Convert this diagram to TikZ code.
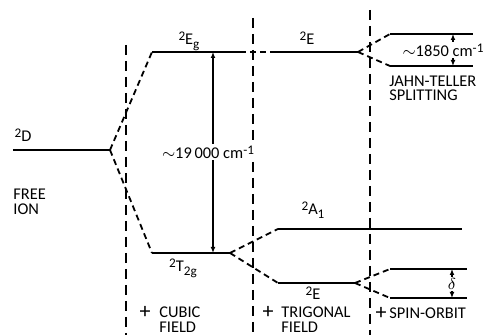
\documentclass[tikz,border=0pt]{standalone}
\usepackage{fontspec}
\setmainfont{Carlito}
\usetikzlibrary{arrows.meta}
\newcommand{\lsup}[1]{\raisebox{0.55ex}{\fontsize{6.6}{7}\selectfont #1}}
\newcommand{\lsub}[1]{\raisebox{-0.45ex}{\fontsize{6.6}{7}\selectfont #1}}
\tikzset{
  lvl/.style={line width=0.9pt},
  cor/.style={line width=0.9pt, dash pattern=on 3pt off 2pt},
  sep/.style={line width=0.7pt, dash pattern=on 5pt off 3pt},
  dim/.style={{Latex[length=3pt,width=2.4pt]}-{Latex[length=3pt,width=2.4pt]}, line width=0.6pt},
  lab/.style={font=\fontsize{8.2}{8.8}\selectfont, inner sep=0pt},
  blk/.style={lab, align=left, font=\fontsize{8.2}{7.6}\selectfont},
  pls/.style={lab, font=\fontsize{11}{11}\selectfont},
}
\begin{document}
\begin{tikzpicture}[x=0.5pt, y=-0.5pt]
  \useasboundingbox (0,0) rectangle (484,335);
  % stage separators
  \coordinate (s1t) at (126,45);  \coordinate (s1b) at (126,335);
  \coordinate (s2t) at (253,18);  \coordinate (s2b) at (253,335);
  \coordinate (s3t) at (370,10);  \coordinate (s3b) at (370,335);
  \draw[sep] (s1t)--(s1b); \draw[sep] (s2t)--(s2b); \draw[sep] (s3t)--(s3b);
  % levels
  \coordinate (d1) at (13,150);   \coordinate (d2) at (110,150);
  \coordinate (eg1) at (152,52);  \coordinate (eg2) at (240,52);
  \coordinate (e1) at (273,52);   \coordinate (e2) at (358,52);
  \coordinate (jt1) at (390,34);  \coordinate (jt2) at (473,34);
  \coordinate (jt3) at (390,66);  \coordinate (jt4) at (473,66);
  \coordinate (t1) at (152,253);  \coordinate (t2) at (230,253);
  \coordinate (a1) at (278,229);  \coordinate (a2) at (462,229);
  \coordinate (el1) at (278,283); \coordinate (el2) at (355,283);
  \coordinate (so1) at (390,269); \coordinate (so2) at (467,269);
  \coordinate (so3) at (390,298); \coordinate (so4) at (467,298);
  \draw[lvl] (d1)--(d2);
  \draw[lvl] (eg1)--(eg2); \draw[lvl] (e1)--(e2);
  \draw[lvl] (jt1)--(jt2); \draw[lvl] (jt3)--(jt4);
  \draw[lvl] (t1)--(t2);
  \draw[lvl] (a1)--(a2); \draw[lvl] (el1)--(el2);
  \draw[lvl] (so1)--(so2); \draw[lvl] (so3)--(so4);
  % correlations
  \draw[cor] (d2)--(eg1); \draw[cor] (d2)--(t1);
  \draw[cor] (eg2)--(e1);
  \draw[cor] (e2)--(jt1); \draw[cor] (e2)--(jt3);
  \draw[cor] (t2)--(a1); \draw[cor] (t2)--(el1);
  \draw[cor] (el2)--(so1); \draw[cor] (el2)--(so3);
  % splittings
  \coordinate (cf1) at (213,52);  \coordinate (cf2) at (213,253);
  \draw[dim] (cf1)--(cf2);
  \node[lab, fill=white, inner sep=1pt] (cfv) at (208,152) {$\sim$19\,000 cm\lsup{-1}};
  \coordinate (jv1) at (453,34);  \coordinate (jv2) at (453,66);
  \draw[dim] (jv1)--(jv2);
  \node[lab, fill=white, inner sep=1pt] (jtv) at (443,50) {$\sim$1850 cm\lsup{-1}};
  \coordinate (sv1) at (452,269); \coordinate (sv2) at (452,298);
  \draw[dim] (sv1)--(sv2);
  \node[lab, fill=white, inner sep=0.6pt] (sov) at (452,284) {$\delta$};
  % term labels
  \node[lab, anchor=base] (ld) at (23,142) {\lsup{2}D};
  \node[lab, anchor=base] (leg) at (189,45) {\lsup{2}E\lsub{g}};
  \node[lab, anchor=base] (le) at (307,45) {\lsup{2}E};
  \node[lab, anchor=base] (la) at (313,215) {\lsup{2}A\lsub{1}};
  \node[lab, anchor=base] (lt) at (183,272) {\lsup{2}T\lsub{2g}};
  \node[lab, anchor=base] (lel) at (313,300) {\lsup{2}E};
  \node[blk, anchor=west] (free) at (13,202) {FREE\\ION};
  \node[blk, anchor=west, font=\fontsize{8.2}{7}\selectfont] (jts) at (389,88) {JAHN-TELLER\\SPLITTING};
  % stage labels
  \node[pls] (p1) at (145,312) {+};
  \node[blk, anchor=west] (cub) at (159,320) {CUBIC\\FIELD};
  \node[pls] (p2) at (268,312) {+};
  \node[blk, anchor=west] (tri) at (281,320) {TRIGONAL\\FIELD};
  \node[pls] (p3) at (381,313) {+};
  \node[lab, anchor=west] (spo) at (389,313) {SPIN-ORBIT};
\end{tikzpicture}
\end{document}
